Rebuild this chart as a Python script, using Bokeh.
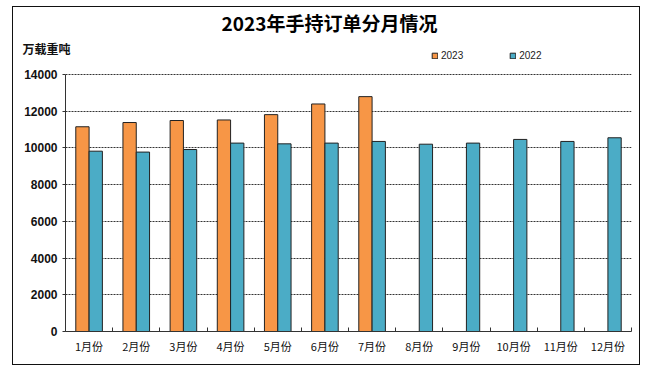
import numpy as np
from bokeh.plotting import figure
from bokeh.models import (Range1d, FixedTicker, LinearAxis, Label, Legend,
                          LegendItem, Grid, ColumnDataSource)
from bokeh.embed import file_html
from bokeh.resources import INLINE

# ---- data ----
months = ["1月份", "2月份", "3月份", "4月份", "5月份", "6月份",
          "7月份", "8月份", "9月份", "10月份", "11月份", "12月份"]
orders_2023 = [11150, 11380, 11490, 11520, 11810, 12390, 12790]
orders_2022 = [9820, 9770, 9910, 10260, 10220, 10260,
               10350, 10200, 10260, 10460, 10350, 10550]
y_ticks = [0, 2000, 4000, 6000, 8000, 10000, 12000, 14000]
title_text = "2023年手持订单分月情况"
unit_text = "万载重吨"

# ---- layout constants ----
BW = 0.282
Y_MAX = 14000
Y_TOP = Y_MAX * (331 - 50) / 258  # frame extends a bit above 14000 (legend)

ORANGE = "#F79646"
BLUE = "#4BACC6"

p = figure(width=626, height=357, x_range=Range1d(0, len(months)),
           y_range=Range1d(0, Y_TOP), output_backend="svg",
           toolbar_location=None, x_axis_type=None, y_axis_type=None,
           min_border_left=52, min_border_right=8, min_border_top=43,
           min_border_bottom=33)
p.outline_line_color = None
p.background_fill_color = "white"
p.border_fill_color = "white"
p.styles = {"margin-left": "13px", "margin-top": "7px",
            "outline": "1px solid #111111"}

centers = np.arange(len(months)) + 0.5
src23 = ColumnDataSource(dict(x=centers[:len(orders_2023)] - BW / 2, top=orders_2023))
src22 = ColumnDataSource(dict(x=centers + BW / 2, top=orders_2022))

# grid
grid = Grid(dimension=1, ticker=FixedTicker(ticks=y_ticks[1:]),
            grid_line_color="#333333", grid_line_dash="2 1", grid_line_width=1)
p.add_layout(grid)

r23 = p.vbar(x="x", top="top", width=BW, bottom=0, source=src23,
             fill_color=ORANGE, line_color="#222222", line_width=1)
r22 = p.vbar(x="x", top="top", width=BW, bottom=0, source=src22,
             fill_color=BLUE, line_color="#222222", line_width=1)

# y axis
yaxis = LinearAxis(ticker=FixedTicker(ticks=y_ticks), bounds=(0, Y_MAX))
yaxis.major_label_text_font = "Liberation Sans"
yaxis.major_label_text_font_style = "bold"
yaxis.major_label_text_font_size = "12px"
yaxis.major_label_text_color = "#111111"
yaxis.major_tick_out = 3
yaxis.major_tick_in = 0
yaxis.minor_tick_out = 0
yaxis.minor_tick_in = 0
yaxis.axis_line_color = "#333333"
yaxis.major_tick_line_color = "#333333"
yaxis.major_label_standoff = 5
p.add_layout(yaxis, "left")

# x axis: labels at centers, ticks at boundaries
boundaries = list(range(len(months) + 1))
xaxis = LinearAxis(ticker=FixedTicker(ticks=list(centers), minor_ticks=boundaries))
xaxis.major_label_overrides = {float(c): m for c, m in zip(centers, months)}
xaxis.major_tick_in = 0
xaxis.major_tick_out = 0
xaxis.minor_tick_in = 4
xaxis.minor_tick_out = 0
xaxis.minor_tick_line_color = "#333333"
xaxis.axis_line_color = "#333333"
xaxis.major_label_standoff = 6
xaxis.major_label_text_font = "Noto Sans CJK SC"
xaxis.major_label_text_font_size = "11px"
xaxis.major_label_text_color = "#111111"
p.add_layout(xaxis, "below")

# legend
legend = Legend(items=[LegendItem(label="2023", renderers=[r23]),
                       LegendItem(label="2022", renderers=[r22])],
                location=(366, 270), orientation="horizontal",
                glyph_width=7, glyph_height=7, label_height=12,
                label_standoff=3, spacing=46, padding=0, margin=0,
                border_line_color=None, background_fill_alpha=0,
                label_text_font="Liberation Sans", label_text_font_size="10px",
                label_text_color="#222222")
p.add_layout(legend)

# title and unit label (placed in the top panel, canvas pixel units)
p.add_layout(Label(x=316, y=15, x_units="canvas", y_units="canvas",
                   text=title_text, text_font="Noto Sans CJK SC",
                   text_font_size="19px", text_font_style="bold",
                   text_align="center", text_baseline="middle",
                   text_color="#000000"), "above")
p.add_layout(Label(x=9, y=41, x_units="canvas", y_units="canvas",
                   text=unit_text, text_font="Noto Sans CJK SC",
                   text_font_size="12px", text_font_style="bold",
                   text_align="left", text_baseline="middle",
                   text_color="#111111"), "above")

open("out.html", "w").write(file_html(p, INLINE))
